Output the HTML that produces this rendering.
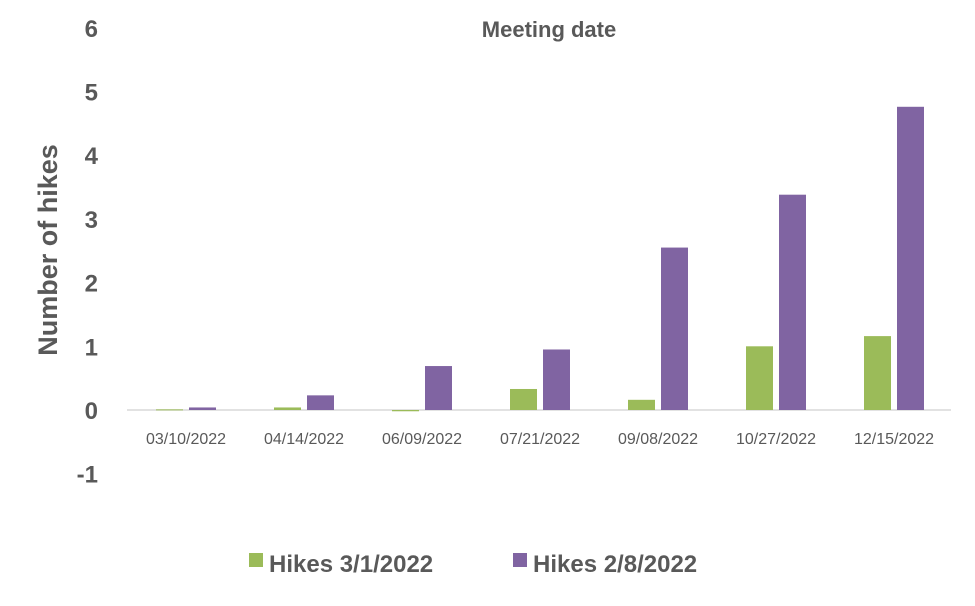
<!DOCTYPE html>
<html><head><meta charset="utf-8"><style>
body{margin:0;background:#fff;font-family:"Liberation Sans",sans-serif;}
</style></head><body>
<svg width="975" height="601" xmlns="http://www.w3.org/2000/svg">
<text x="549" y="37" text-anchor="middle" font-size="22" font-weight="bold" fill="#595959">Meeting date</text>
<text transform="translate(57,250) rotate(-90)" text-anchor="middle" font-size="27" font-weight="bold" fill="#595959">Number of hikes</text>
<g id="yticks"></g>
<line x1="127" x2="951" y1="410" y2="410" stroke="#d9d9d9" stroke-width="1.5"/>
<g id="bars"></g>
<g id="xlabels"></g>
<g>
<rect x="249" y="553" width="14" height="14" fill="#9bbb59"/>
<text x="269" y="572" font-size="24" font-weight="bold" fill="#595959">Hikes 3/1/2022</text>
<rect x="513" y="553" width="14" height="14" fill="#8064a2"/>
<text x="533" y="572" font-size="24" font-weight="bold" fill="#595959">Hikes 2/8/2022</text>
</g>
</svg>
<script>
const categories=["03/10/2022","04/14/2022","06/09/2022","07/21/2022","09/08/2022","10/27/2022","12/15/2022"];
const hikesMar=[0.01,0.04,-0.02,0.33,0.16,1.0,1.16];
const hikesFeb=[0.04,0.23,0.69,0.95,2.55,3.38,4.76];
const yTicks=[-1,0,1,2,3,4,5,6];
const NS="http://www.w3.org/2000/svg";
const y=v=>410-v*63.7;
const xc=i=>186+i*118;
const yt=document.getElementById('yticks');
yTicks.forEach(t=>{const e=document.createElementNS(NS,'text');
e.setAttribute('x',98);e.setAttribute('y',y(t)+9);e.setAttribute('text-anchor','end');
e.setAttribute('font-size','24');e.setAttribute('font-weight','bold');e.setAttribute('fill','#595959');
e.textContent=t;


yt.appendChild(e);});
const bg=document.getElementById('bars');
function bar(x,v,c,n){const r=document.createElementNS(NS,'rect');
r.setAttribute('x',x);r.setAttribute('width',27);
r.setAttribute('y',Math.min(y(v),y(0)));r.setAttribute('height',Math.max(Math.abs(y(v)-y(0)),1));
r.setAttribute('fill',c);


bg.appendChild(r);}
categories.forEach((c,i)=>{bar(xc(i)-30,hikesMar[i],'#9bbb59','bar-hikes-3-1');bar(xc(i)+3,hikesFeb[i],'#8064a2','bar-hikes-2-8');
const t=document.createElementNS(NS,'text');
t.setAttribute('x',xc(i));t.setAttribute('y',444);t.setAttribute('text-anchor','middle');
t.setAttribute('font-size','16');t.setAttribute('fill','#595959');t.textContent=c;


document.getElementById('xlabels').appendChild(t);});
</script>
</body></html>
